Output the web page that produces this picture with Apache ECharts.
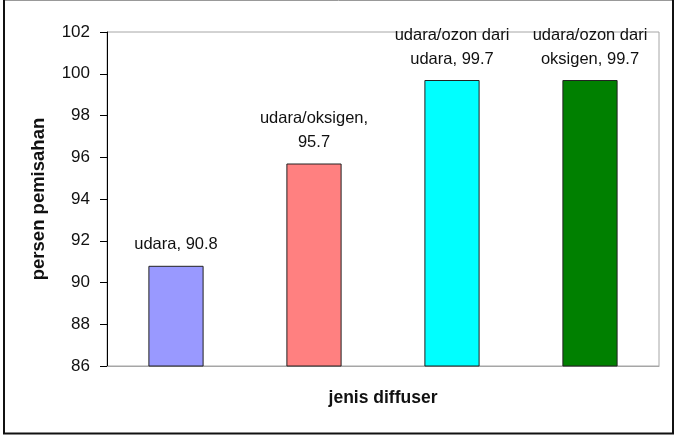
<!DOCTYPE html>
<html>
<head>
<meta charset="utf-8">
<script src="https://cdn.jsdelivr.net/npm/echarts@6/dist/echarts.min.js"></script>
<style>
html,body{margin:0;padding:0;background:#fff;}
#c{width:683px;height:435px;}
</style>
</head>
<body>
<div id="c"></div>
<script>
const categories = ['udara', 'udara/oksigen', 'udara/ozon dari udara', 'udara/ozon dari oksigen'];
const values = [90.8, 95.7, 99.7, 99.7];
const labelTexts = ['udara, 90.8', 'udara/oksigen,\n95.7', 'udara/ozon dari\nudara, 99.7', 'udara/ozon dari\noksigen, 99.7'];
const barColors = ['#9999FF', '#FF8080', '#00FFFF', '#008000'];
const yMin = 86, yMax = 102, yStep = 2;
const yAxisTitle = 'persen pemisahan';
const xAxisTitle = 'jenis diffuser';

const FONT = '"Liberation Sans", Arial, sans-serif';
const chart = echarts.init(document.getElementById('c'), null, {renderer: 'canvas'});
chart.setOption({
  animation: false,
  backgroundColor: '#fff',
  grid: {left: 107, top: 32, right: 24, bottom: 69, show: true, borderColor: '#a6a6a6', borderWidth: 1, containLabel: false},
  xAxis: {
    type: 'category',
    data: categories,
    axisLine: {show: true, lineStyle: {color: '#a6a6a6', width: 1}},
    axisTick: {show: false},
    axisLabel: {show: false},
    splitLine: {show: false},
    name: xAxisTitle,
    nameLocation: 'middle',
    nameGap: 23,
    nameTextStyle: {fontFamily: FONT, fontSize: 17.5, fontWeight: 'bold', color: '#111', lineHeight: 18}
  },
  yAxis: {
    type: 'value',
    min: yMin, max: yMax, interval: yStep,
    axisLine: {show: true, lineStyle: {color: '#000', width: 1}},
    axisTick: {show: true, inside: false, length: 7, lineStyle: {color: '#000'}},
    axisLabel: {margin: 17, fontFamily: FONT, fontSize: 17, color: '#111'},
    splitLine: {show: false},
    name: yAxisTitle,
    nameLocation: 'middle',
    nameRotate: 90,
    nameGap: 59,
    nameTextStyle: {fontFamily: FONT, fontSize: 18.5, fontWeight: 'bold', color: '#111', lineHeight: 19}
  },
  series: [{
    type: 'bar',
    barWidth: '40%',
    data: values.map((v, i) => ({
      value: v,
      itemStyle: {color: barColors[i], borderColor: '#222', borderWidth: 1}
    })),
    label: {
      show: true,
      position: 'top',
      distance: 9,
      formatter: p => labelTexts[p.dataIndex],
      fontFamily: FONT,
      fontSize: 16.5,
      lineHeight: 24,
      color: '#111',
      align: 'center'
    }
  }],
  graphic: [
    {type: 'line', shape: {x1: 3, y1: 0.5, x2: 674, y2: 0.5}, style: {stroke: '#999', lineWidth: 1}},
    {type: 'line', shape: {x1: 4, y1: 0, x2: 4, y2: 434}, style: {stroke: '#111', lineWidth: 2}},
    {type: 'line', shape: {x1: 673, y1: 0, x2: 673, y2: 434}, style: {stroke: '#111', lineWidth: 2}},
    {type: 'line', shape: {x1: 3, y1: 433.5, x2: 674, y2: 433.5}, style: {stroke: '#111', lineWidth: 2}}
  ]
});
</script>
</body>
</html>
